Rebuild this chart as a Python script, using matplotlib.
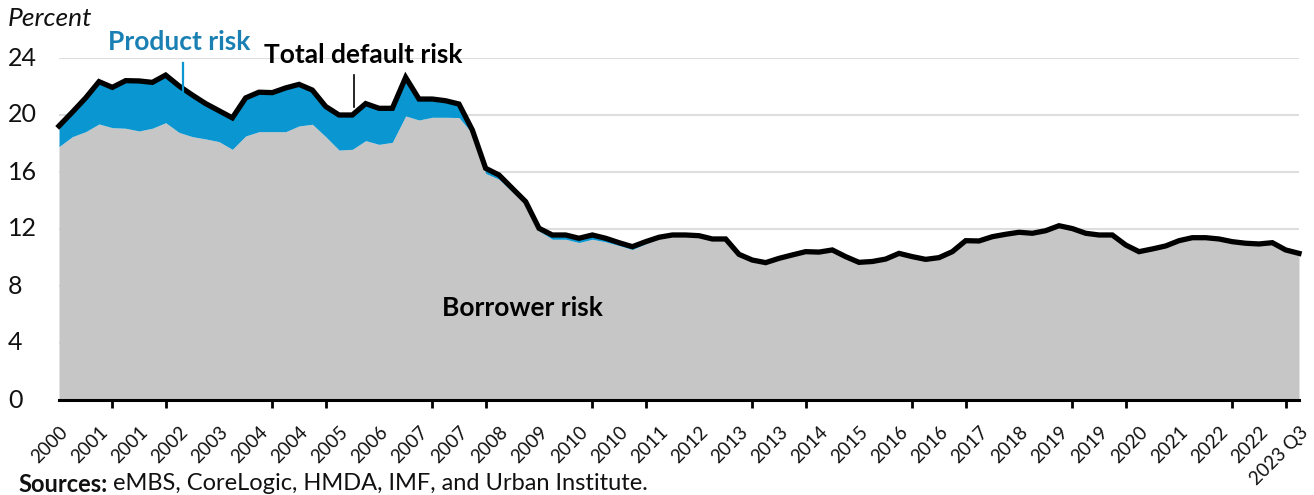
import matplotlib
matplotlib.use("Agg")
import matplotlib.pyplot as plt
import numpy as np

# Quarterly series, 2000 Q2 through 2023 Q3 (percent)
total_default_risk = [
    19.23, 20.20, 21.20, 22.34, 21.94, 22.41, 22.39, 22.29, 22.80, 22.04,
    21.40, 20.80, 20.30, 19.80, 21.20, 21.60, 21.57, 21.90, 22.15, 21.75,
    20.60, 20.00, 20.00, 20.80, 20.47, 20.47, 22.64, 21.12, 21.12, 21.00,
    20.77, 18.95, 16.26, 15.79, 14.85, 13.92, 12.05, 11.58, 11.58, 11.35,
    11.58, 11.35, 11.04, 10.76, 11.11, 11.42, 11.58, 11.58, 11.53, 11.30,
    11.30, 10.22, 9.82, 9.64, 9.94, 10.18, 10.41, 10.38, 10.53, 10.06,
    9.66, 9.72, 9.89, 10.29, 10.06, 9.87, 9.99, 10.41, 11.18, 11.16,
    11.46, 11.63, 11.77, 11.70, 11.88, 12.23, 12.03, 11.70, 11.58, 11.58,
    10.88, 10.41, 10.60, 10.81, 11.18, 11.39, 11.39, 11.30, 11.11, 11.00,
    10.95, 11.04, 10.53, 10.29,
]
borrower_risk = [
    17.78, 18.48, 18.83, 19.37, 19.11, 19.07, 18.88, 19.07, 19.46, 18.78,
    18.48, 18.32, 18.13, 17.59, 18.53, 18.83, 18.83, 18.83, 19.23, 19.35,
    18.48, 17.54, 17.59, 18.20, 17.94, 18.08, 19.93, 19.65, 19.84, 19.84,
    19.82, 18.70, 15.90, 15.49, 14.60, 13.72, 11.85, 11.28, 11.28, 11.05,
    11.28, 11.10, 10.84, 10.56, 10.96, 11.34, 11.53, 11.55, 11.53, 11.30,
    11.30, 10.22, 9.82, 9.64, 9.94, 10.18, 10.41, 10.38, 10.53, 10.06,
    9.66, 9.72, 9.89, 10.29, 10.06, 9.87, 9.99, 10.41, 11.18, 11.16,
    11.46, 11.63, 11.77, 11.70, 11.88, 12.23, 12.03, 11.70, 11.58, 11.58,
    10.88, 10.41, 10.60, 10.81, 11.18, 11.39, 11.39, 11.30, 11.11, 11.00,
    10.95, 11.04, 10.53, 10.29,
]
# Category labels, shown every third quarter
tick_labels = [
    "2000", "2001", "2001", "2002", "2003", "2004", "2004", "2005",
    "2006", "2007", "2007", "2008", "2009", "2010", "2010", "2011",
    "2012", "2013", "2013", "2014", "2015", "2016", "2016", "2017",
    "2018", "2019", "2019", "2020", "2021", "2022", "2022", "2023 Q3",
]
y_ticks = [0, 4, 8, 12, 16, 20, 24]

GRAY = "#c6c6c6"
BLUE = "#0a96d0"
BLUE_TEXT = "#1a80b3"
GRID = "#dedede"
INK = "#111111"

plt.rcParams["font.family"] = ["Lato", "DejaVu Sans"]

W, H = 1314, 495
fig = plt.figure(figsize=(W / 100, H / 100), dpi=100)
ax = fig.add_axes([59 / W, 1 - 400 / H, 1240 / W, 342 / H])

x = np.arange(len(total_default_risk))
ax.fill_between(x, 0, borrower_risk, color=GRAY, linewidth=0, zorder=2)
ax.fill_between(x, borrower_risk, total_default_risk, color=BLUE, linewidth=0, zorder=2)
ax.plot(x, total_default_risk, color="black", linewidth=3.8, solid_joinstyle="miter",
        zorder=4, clip_on=False)

ax.set_xlim(0, len(x) - 1)
ax.set_ylim(0, 24)

# Grid and axes
ax.set_yticks(y_ticks)
ax.set_yticklabels([])
ax.yaxis.grid(True, color=GRID, linewidth=1.5, zorder=1)
ax.set_axisbelow(True)
for s in ["top", "right", "left"]:
    ax.spines[s].set_visible(False)
ax.spines["bottom"].set_linewidth(2.2)
ax.spines["bottom"].set_zorder(5)
ax.tick_params(axis="y", length=0)
for v in y_ticks:
    ax.annotate(str(v), xy=(0, v), xycoords=("axes fraction", "data"),
                xytext=(8 - 59, 0), textcoords="offset pixels",
                ha="left", va="center", fontsize=18, color=INK)

label_pos = np.arange(0, len(x), 3)
ax.set_xticks(label_pos)
ax.set_xticklabels(tick_labels, rotation=45, ha="right", rotation_mode="anchor",
                   fontsize=13.5, color=INK)
ax.tick_params(axis="x", which="major", length=0, pad=17)
ax.set_xticks(np.arange(0, len(x), 4), minor=True)
ax.tick_params(axis="x", which="minor", length=6, width=2, color="black", direction="out")

# Annotations
fig.text(8 / W, 1 - 18 / H, "Percent", fontsize=19, style="italic",
         va="center", ha="left", color=INK)
fig.text(108 / W, 1 - 42 / H, "Product risk", fontsize=19, fontweight="bold",
         color=BLUE_TEXT, va="center", ha="left")
fig.add_artist(plt.Line2D([183 / W, 183 / W], [1 - 63 / H, 1 - 110 / H],
                          color=BLUE, linewidth=1.6))
fig.text(264 / W, 1 - 55 / H, "Total default risk", fontsize=19, fontweight="bold",
         color="black", va="center", ha="left")
fig.add_artist(plt.Line2D([354 / W, 354 / W], [1 - 75 / H, 1 - 107 / H],
                          color="black", linewidth=1.2))
fig.text(522 / W, 1 - 308 / H, "Borrower risk", fontsize=19, fontweight="bold",
         color="black", va="center", ha="center", zorder=6)

# Source line
src = fig.text(18 / W, 1 - 484 / H, "Sources:", fontsize=17, fontweight="bold",
               va="center", ha="left", color=INK)
fig.canvas.draw()
bb = src.get_window_extent()
fig.text((bb.x1 + 6) / W, 1 - 484 / H, "eMBS, CoreLogic, HMDA, IMF, and Urban Institute.",
         fontsize=17, va="center", ha="left", color=INK)

fig.savefig("out.png", dpi=100)
